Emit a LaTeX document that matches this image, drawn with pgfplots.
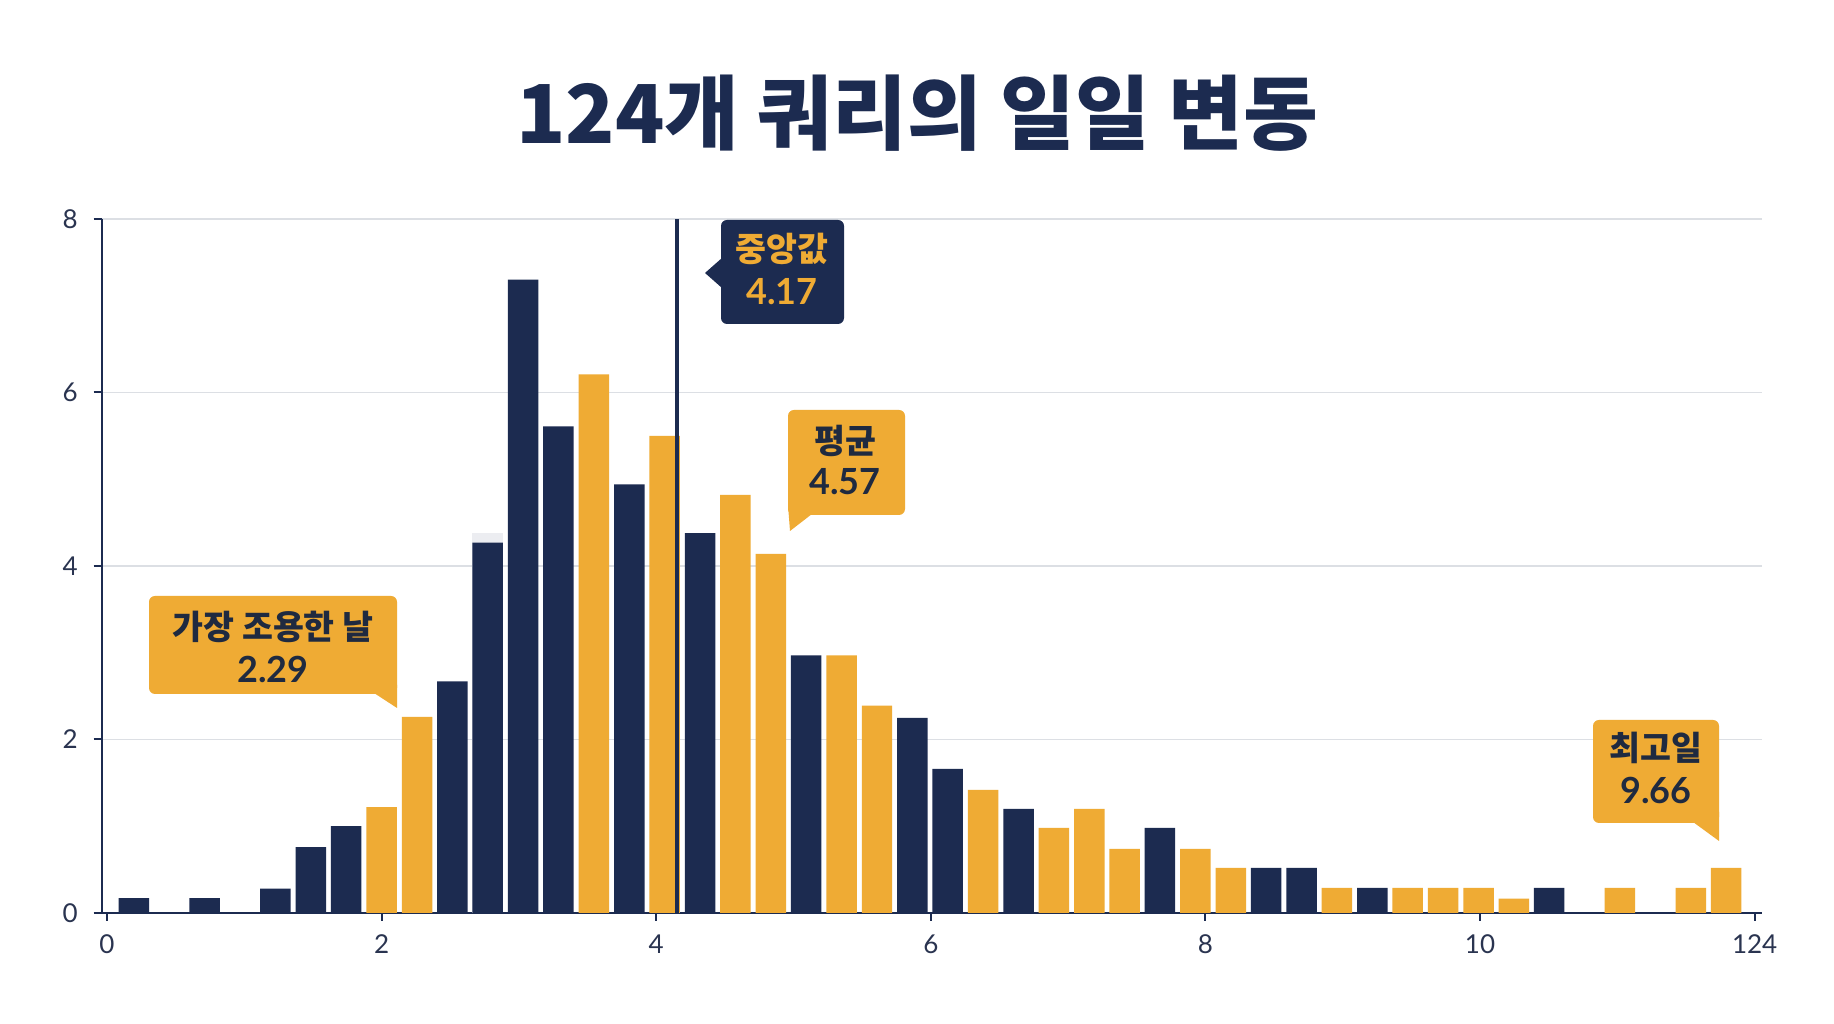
\documentclass[border=0pt]{standalone}
\usepackage{pgfplots}
\pgfplotsset{compat=1.18}
\usepackage{fontspec}
\setmainfont{Lato}
\newfontfamily\kr{Noto Sans CJK KR}

\definecolor{navy}{HTML}{1C2B50}
\definecolor{gold}{HTML}{EFAB34}
\definecolor{gridc}{HTML}{DCDFE4}
\definecolor{ghost}{HTML}{ECEDF1}
\definecolor{ink}{HTML}{1F2A40}
\definecolor{tickc}{HTML}{2A3450}

\begin{document}
\begin{tikzpicture}
\fill[white] (0,0) rectangle (458.5pt,256pt);
\path[use as bounding box] (0,0) rectangle (458.5pt,256pt);

\begin{axis}[
  at={(25.375pt,27.75pt)}, anchor=south west,
  scale only axis, width=415pt, height=173.5pt,
  xmin=-0.04, xmax=12.05, ymin=0, ymax=8,
  axis lines=left, axis line style={-, navy, line width=0.5pt},
  xtick={0,2,...,12}, xticklabels={0,2,4,6,8,10,124},
  ytick={0,2,...,8},
  ymajorgrids, grid style={gridc, line width=0.35pt},
  tick align=outside, major tick length=2pt,
  tick style={navy, line width=0.5pt},
  ticklabel style={font=\fontsize{6.5}{7}\selectfont, text=tickc},
  yticklabel style={xshift=-0.4pt},
  /pgf/number format/assume math mode=true,
  clip=false,
]
% light strip behind one bar
\addplot[ybar, bar shift=0pt, bar width=0.224, fill=ghost, draw=none]
  coordinates {(2.773,4.38)};
% navy bins
\addplot[ybar, bar shift=0pt, bar width=0.222, fill=navy, draw=none]
  coordinates {(0.196,0.17)(0.711,0.17)(1.227,0.28)(1.485,0.76)(1.742,1.0)
  (2.515,2.67)(2.773,4.27)(3.031,7.3)(3.288,5.61)(3.804,4.94)(4.319,4.38)
  (5.092,2.97)(5.865,2.25)(6.123,1.66)(6.639,1.2)(7.669,0.98)(8.442,0.52)
  (8.700,0.52)(9.216,0.29)(10.504,0.29)};
% gold bins
\addplot[ybar, bar shift=0pt, bar width=0.222, fill=gold, draw=none]
  coordinates {(2.000,1.22)(2.258,2.26)(3.546,6.21)(4.062,5.5)(4.577,4.82)
  (4.835,4.14)(5.350,2.97)(5.608,2.39)(6.381,1.42)(6.896,0.98)(7.154,1.2)
  (7.412,0.74)(7.927,0.74)(8.185,0.52)(8.958,0.29)(9.473,0.29)(9.731,0.29)
  (9.989,0.29)(10.246,0.165)(11.019,0.29)(11.535,0.29)(11.793,0.52)};
% median
\addplot[navy, line width=1pt] coordinates {(4.15,0)(4.15,8)};
\end{axis}

% title and callouts, placed in pixel units of the reference
\begin{scope}[x=0.25pt, y=-0.25pt, shift={(0pt,256pt)}]
\node[text=navy, font=\kr\bfseries\fontsize{20.3}{24}\selectfont] at (917,113) {124개 쿼리의 일일 변동};

\tikzset{lbl/.style={font=\kr\bfseries\fontsize{8.4}{10}\selectfont},
  num/.style={font=\bfseries\fontsize{9}{10}\selectfont}}
% median
\fill[navy, rounded corners=1.5pt] (721,220) rectangle (844,324);
\fill[navy] (722,258) -- (705,273) -- (722,288) -- cycle;
\node[lbl, text=gold] at (782,249) {중앙값};
\node[num, text=gold] at (782,292) {4.17};
% mean
\fill[gold, rounded corners=1.5pt] (788,410) rectangle (905,515);
\fill[gold] (788,505) -- (790,531) -- (812,514) -- cycle;
\node[lbl, text=ink] at (845,441) {평균};
\node[num, text=ink] at (845,482) {4.57};
% quietest day
\fill[gold, rounded corners=1.5pt] (149,596) rectangle (397,694);
\fill[gold] (374,693) -- (397,708) -- (397,685) -- cycle;
\node[lbl, text=ink] at (273,627) {가장 조용한 날};
\node[num, text=ink] at (273,669) {2.29};
% peak day
\fill[gold, rounded corners=1.5pt] (1593,720) rectangle (1719,823);
\fill[gold] (1693,822) -- (1719,841) -- (1719,812) -- cycle;
\node[lbl, text=ink] at (1656,748) {최고일};
\node[num, text=ink] at (1656,791) {9.66};
\end{scope}
\end{tikzpicture}
\end{document}
